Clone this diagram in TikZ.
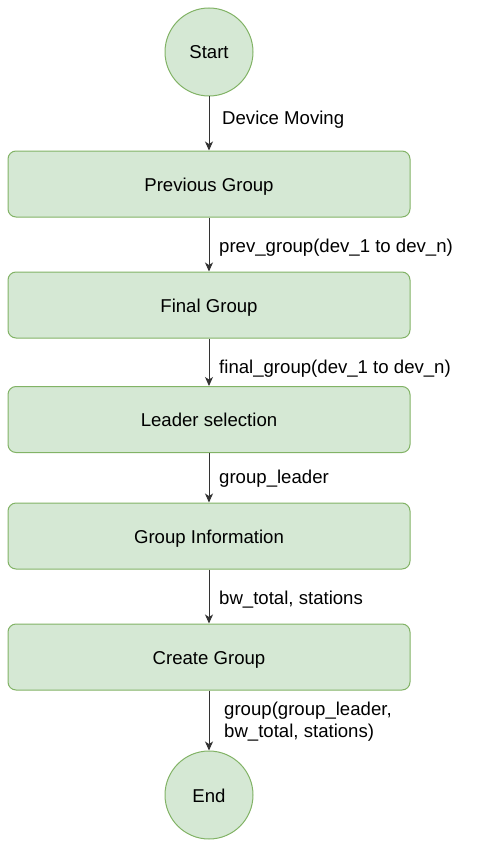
\documentclass[tikz,border=0pt]{standalone}
\usepackage{fontspec}
\setmainfont{Liberation Sans}
\usetikzlibrary{arrows.meta}
\definecolor{gfill}{HTML}{D5E8D4}
\definecolor{gdraw}{HTML}{82B366}
\begin{document}
\begin{tikzpicture}[x=1pt,y=-1pt,
  every node/.style={font=\fontsize{18.6}{22}\selectfont},
  circ/.style={circle,draw=gdraw,fill=gfill,line width=1pt,minimum size=88pt,inner sep=0pt,text height=14pt,text depth=0pt},
  box/.style={rectangle,rounded corners=8pt,draw=gdraw,fill=gfill,line width=1pt,minimum width=402pt,minimum height=66pt,inner sep=0pt,text height=14pt,text depth=0pt},
  arr/.style={-{Stealth[length=9pt,width=8pt,inset=2.5pt]},line width=1pt,draw=black!80},
  lbl/.style={anchor=base west,inner sep=0pt,align=left}]
\useasboundingbox (0,0) rectangle (485,848);
\node[circ] (start) at (209,52) {Start};
\node[box] (b1) at (209,184) {Previous Group};
\node[box] (b2) at (209,305) {Final Group};
\node[box] (b3) at (209,419.5) {Leader selection};
\node[box] (b4) at (209,536) {Group Information};
\node[box] (b5) at (209,657) {Create Group};
\node[circ] (end) at (209,795) {End};
\draw[arr] (start) -- (b1);
\draw[arr] (b1) -- (b2);
\draw[arr] (b2) -- (b3);
\draw[arr] (b3) -- (b4);
\draw[arr] (b4) -- (b5);
\draw[arr] (b5) -- (end);
\node[lbl] (l1) at (222,124.5) {Device Moving};
\node[lbl] (l2) at (219,252) {prev\_group(dev\_1 to dev\_n)};
\node[lbl] (l3) at (219,373) {final\_group(dev\_1 to dev\_n)};
\node[lbl] (l4) at (219,483) {group\_leader};
\node[lbl] (l5) at (219,604) {bw\_total, stations};
\node[lbl] (l6) at (224,737) {group(group\_leader,\\bw\_total, stations)};
\end{tikzpicture}
\end{document}
